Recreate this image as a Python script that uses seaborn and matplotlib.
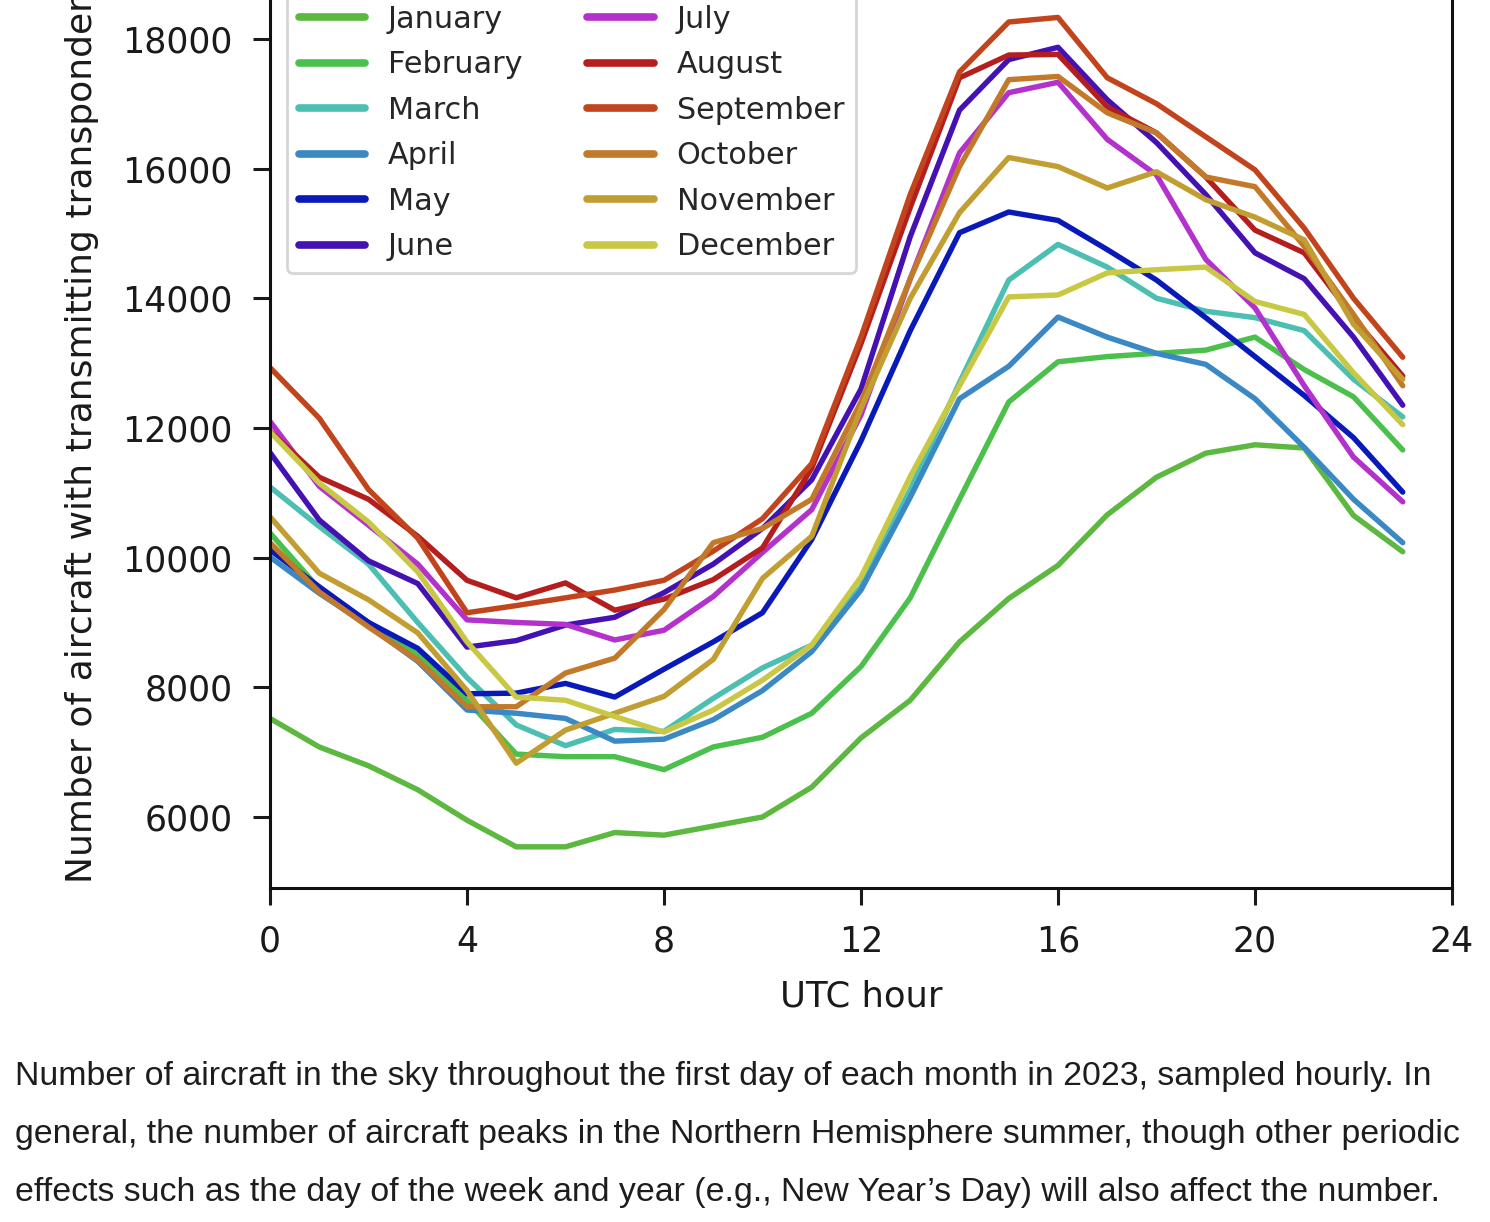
import pandas as pd
import numpy as np
import seaborn as sns
import matplotlib.pyplot as plt

hours = list(range(24))

months = ["January", "February", "March", "April", "May", "June",
          "July", "August", "September", "October", "November", "December"]

jan = [7520, 7080, 6790, 6420, 5950, 5540, 5540, 5760, 5720, 5860, 6000, 6460,
       7220, 7800, 8700, 9370, 9880, 10660, 11240, 11610, 11740, 11690, 10650, 10090]
feb = [10380, 9520, 9000, 8500, 7800, 6970, 6930, 6930, 6730, 7080, 7230, 7600,
       8320, 9380, 10900, 12400, 13020, 13100, 13150, 13200, 13400, 12900, 12480, 11660]
mar = [11090, 10480, 9900, 9000, 8150, 7420, 7100, 7350, 7320, 7830, 8300, 8650,
       9550, 11050, 12700, 14280, 14830, 14480, 14000, 13800, 13700, 13500, 12750, 12170]
apr = [10010, 9450, 8950, 8400, 7650, 7600, 7520, 7170, 7200, 7500, 7950, 8550,
       9500, 10930, 12450, 12950, 13710, 13400, 13150, 12980, 12450, 11700, 10900, 10230]
may = [10120, 9550, 9000, 8600, 7900, 7910, 8060, 7850, 8280, 8700, 9150, 10280,
       11800, 13500, 15010, 15330, 15200, 14750, 14280, 13700, 13100, 12500, 11850, 11010]
jun = [11620, 10580, 9950, 9600, 8620, 8720, 8960, 9080, 9460, 9900, 10450, 11200,
       12600, 14950, 16900, 17680, 17870, 17060, 16400, 15600, 14700, 14300, 13400, 12350]
jul = [12100, 11100, 10500, 9900, 9040, 9000, 8970, 8730, 8880, 9400, 10080, 10740,
       12200, 14300, 16240, 17170, 17330, 16450, 15900, 14600, 13850, 12650, 11550, 10860]
aug = [11950, 11240, 10900, 10330, 9650, 9380, 9610, 9190, 9360, 9660, 10150, 11380,
       13300, 15400, 17400, 17750, 17760, 16950, 16550, 15870, 15050, 14700, 13700, 12800]
sep = [12930, 12150, 11050, 10300, 9150, 9260, 9380, 9500, 9650, 10100, 10600, 11450,
       13400, 15600, 17490, 18260, 18330, 17400, 17000, 16490, 15980, 15080, 14000, 13090]
octo = [10230, 9470, 8930, 8420, 7700, 7700, 8220, 8450, 9200, 10230, 10450, 10900,
        12400, 14300, 16030, 17370, 17420, 16860, 16550, 15870, 15720, 14800, 13750, 12650]
nov = [10630, 9760, 9350, 8840, 7950, 6830, 7340, 7600, 7860, 8430, 9680, 10330,
       12300, 14000, 15320, 16170, 16030, 15700, 15950, 15520, 15250, 14900, 13600, 12750]
dec = [11940, 11150, 10550, 9780, 8700, 7850, 7800, 7550, 7310, 7650, 8110, 8650,
       9700, 11250, 12650, 14020, 14050, 14390, 14440, 14480, 13950, 13750, 12850, 12050]

colors = ["#5cb83f", "#4cc04c", "#4dbfb2", "#3a88c4", "#0a1ab8", "#4412b2",
          "#b432cc", "#b41e1e", "#c2441c", "#c27a2a", "#c29e32", "#c8c844"]

caption = [
    "Number of aircraft in the sky throughout the first day of each month in 2023, sampled hourly. In",
    "general, the number of aircraft peaks in the Northern Hemisphere summer, though other periodic",
    "effects such as the day of the week and year (e.g., New Year\u2019s Day) will also affect the number.",
]

series = [jan, feb, mar, apr, may, jun, jul, aug, sep, octo, nov, dec]
df = pd.DataFrame({
    "hour": hours * len(months),
    "count": np.concatenate(series),
    "month": np.repeat(months, len(hours)),
})

sns.set_style("ticks")
plt.rcParams["font.family"] = ["DejaVu Sans"]

W, H = 1490, 1222
fig = plt.figure(figsize=(W / 100, H / 100), dpi=100)

# axes runs off the top of the picture, like the cropped screenshot
ax = fig.add_axes([270 / W, (H - 888) / H, 1182 / W, 914 / H])

sns.lineplot(data=df, x="hour", y="count", hue="month", hue_order=months,
             palette=dict(zip(months, colors)), linewidth=3.9, ax=ax)

ax.set_xlim(0, 24)
ax.set_ylim(4905, 19000)
ax.set_xticks(range(0, 25, 4))
ax.set_yticks(range(6000, 18001, 2000))
ax.tick_params(axis="both", labelsize=25, length=12, width=2.2, colors="#1a1a1a")
ax.tick_params(axis="y", pad=15)
ax.tick_params(axis="x", pad=14.5)
for s in ax.spines.values():
    s.set_linewidth(2.2)
    s.set_color("#111111")

ax.set_xlabel("UTC hour", fontsize=25.5, color="#1a1a1a")
ax.set_ylabel("Number of aircraft with transmitting transponders", fontsize=26, color="#1a1a1a")
ax.yaxis.set_label_coords(-0.145, 0.5)
ax.xaxis.set_label_coords(0.5, -0.1)

handles, labels = ax.get_legend_handles_labels()
leg = ax.legend(handles, labels, ncol=2, fontsize=21.8, loc="lower left",
                bbox_to_anchor=(287 / W, (H - 273) / H), bbox_transform=fig.transFigure,
                borderaxespad=0, labelspacing=0.545, handlelength=2.2,
                handletextpad=0.75, columnspacing=2.15, borderpad=0.38)
for line in leg.get_lines():
    line.set_linewidth(5.5)
leg.get_frame().set_linewidth(2)

for i, txt in enumerate(caption):
    fig.text(15 / W, 1 - (1077 + 57.5 * i) / H, txt, fontsize=24.4, va="center", ha="left",
             family=["Liberation Sans"], color="#1d1d1f")

fig.savefig("out.png", dpi=100)
